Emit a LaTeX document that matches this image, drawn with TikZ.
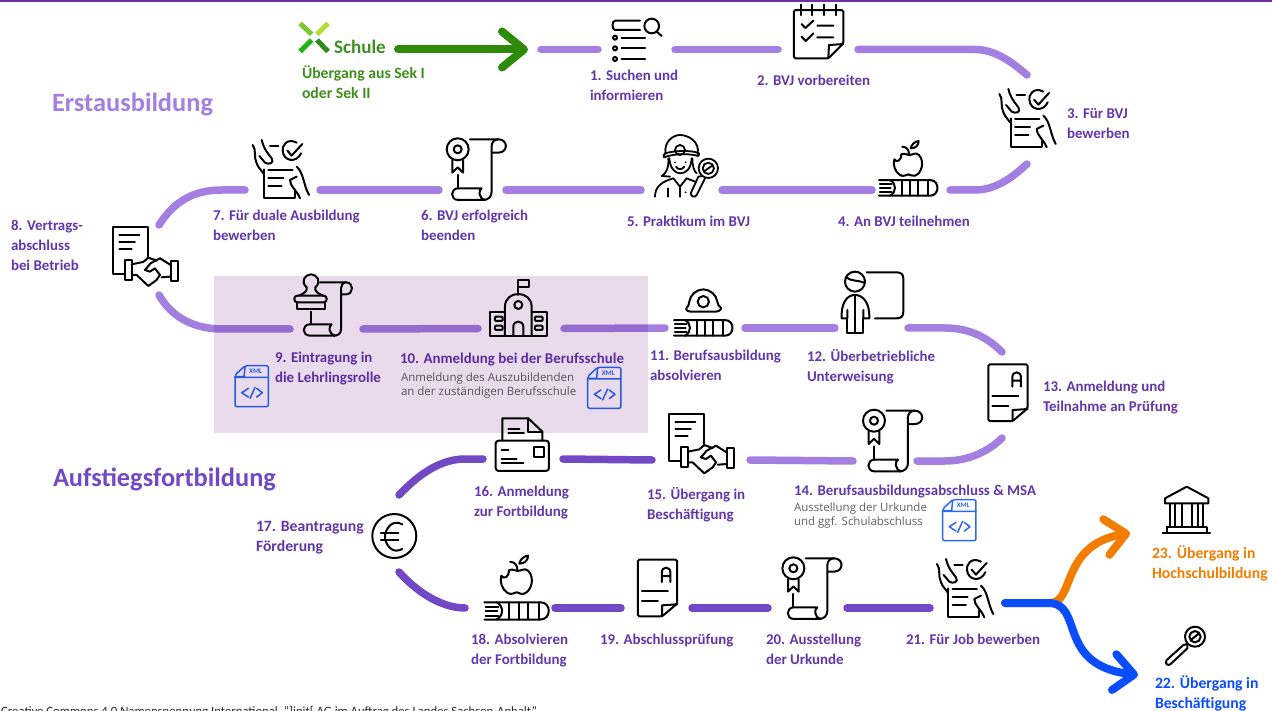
\documentclass[tikz,border=0pt]{standalone}
\usepackage{fontspec}
\setmainfont{Carlito}
\newfontfamily\subfont{Open Sans}
\usetikzlibrary{arrows.meta}
\definecolor{lightp}{HTML}{A27FE0}
\definecolor{darkp}{HTML}{7249C4}
\definecolor{textp}{HTML}{6236AC}
\definecolor{xmlb}{HTML}{2A6AF0}
\definecolor{gr}{HTML}{2E8B0A}
\definecolor{grt}{HTML}{3F8F1E}
\definecolor{orng}{HTML}{F27D00}
\definecolor{blu}{HTML}{0A4CFF}
\definecolor{bandc}{HTML}{E9DAEC}
\definecolor{topl}{HTML}{7030A0}
\newcommand{\ibox}[5]{\node[ibox,minimum width={(#4-#2)*1pt},minimum height={(#5-#3)*1pt}] (#1) at ({(#2+#4)/2},{(#3+#5)/2}) {};}
\tikzset{
 ibox/.style={inner sep=0pt,outer sep=0pt,rectangle},
 ico/.style={x=.3333pt,y=-.3333pt,line width=2pt,line cap=round,line join=round},
 seg/.style={line width=7.5pt,line cap=round,draw=lightp},
 segd/.style={line width=7.5pt,line cap=round,draw=darkp},
 lbl/.style={inner sep=0pt,outer sep=0pt,anchor=north west,align=left,text=textp,font=\fontsize{14.9}{20}\selectfont\bfseries,execute at begin node=\strut},
 lblb/.style={lbl,font=\fontsize{15.7}{20}\selectfont\bfseries},
 subl/.style={inner sep=0pt,outer sep=0pt,anchor=north west,align=left,text=black!62,font=\subfont\fontsize{11.5}{13.5}\selectfont,execute at begin node=\strut},
 head/.style={inner sep=0pt,outer sep=0pt,anchor=west,font=\fontsize{26.4}{30}\selectfont\bfseries},
 pics/chk/.style={code={\begin{scope}[ico,shift={(-540,-118)}]
  \draw (505,120)--(578,120) (505,143)--(550,143) (505,167)--(545,167) (510,48)--(535,48);
  \draw (492,118)--(492,205)--(585,205)--(585,185);
  \draw (590,38) .. controls (560,22) and (545,50) .. (548,62) .. controls (550,95) and (590,100) .. (603,70);
  \draw (562,62)--(575,77)--(607,42);
  \draw (458,45) .. controls (470,60) and (460,80) .. (470,100) .. controls (475,115) and (485,120) .. (490,130);
  \draw (485,30) .. controls (490,50) and (495,60) .. (515,85) .. controls (525,100) and (505,105) .. (495,98) -- (478,78);
  \draw (590,110) .. controls (612,130) and (610,165) .. (627,195);
  \draw (600,205) .. controls (590,180) and (570,170) .. (570,150) -- (590,140);
 \end{scope}}},
 pics/cert/.style={code={\begin{scope}[ico,shift={(-1125,-118)}]
  \draw (1073,58) circle[radius=33] (1073,58) circle[radius=12];
  \draw (1057,90)--(1057,128)--(1073,112)--(1089,128)--(1089,90);
  \draw (1073,135)--(1073,175);
  \draw (1110,28)--(1195,28) .. controls (1225,28) and (1225,68) .. (1195,68) -- (1178,68);
  \draw (1195,28) .. controls (1182,28) and (1175,38) .. (1175,48) -- (1175,185) .. controls (1175,200) and (1165,210) .. (1150,210);
  \draw (1145,175)--(1075,175) .. controls (1050,175) and (1050,210) .. (1075,210) -- (1155,210) .. controls (1135,205) and (1135,180) .. (1145,175);
 \end{scope}}},
 pics/book/.style={code={\begin{scope}[ico,shift={(-685,-563)}]
  \draw (597,540)--(750,540) .. controls (780,540) and (780,587) .. (750,587) -- (597,587);
  \draw (600,553)--(635,553) (600,565)--(632,565) (600,577)--(635,577);
  \draw (630,540) .. controls (650,550) and (650,577) .. (630,587);
  \draw (665,540)--(665,587) (690,540)--(690,587) (715,540)--(715,587) (745,540)--(745,587);
 \end{scope}}},
 pics/apple/.style={code={\begin{scope}[ico,shift={(-685,-485)}]
  \draw (664,463) .. controls (675,458) and (680,465) .. (687,465) .. controls (700,465) and (705,455) .. (717,465) .. controls (735,485) and (725,520) .. (705,527) .. controls (695,530) and (690,523) .. (685,523) .. controls (678,523) and (672,532) .. (660,525) .. controls (645,515) and (638,495) .. (643,478) .. controls (650,490) and (665,480) .. cycle;
  \draw (687,462) .. controls (687,450) and (680,440) .. (667,440);
  \draw (692,445) .. controls (695,432) and (705,425) .. (716,423) .. controls (716,435) and (708,445) .. cycle;
 \end{scope}}},
 pics/hat/.style={code={\begin{scope}[ico,shift={(-190,-125)}]
  \draw (155,155) .. controls (145,155) and (135,150) .. (140,143) .. controls (145,138) and (147,135) .. (148,125) .. controls (150,105) and (170,88) .. (190,88) .. controls (210,88) and (230,105) .. (232,125) .. controls (233,135) and (237,138) .. (243,143) .. controls (245,150) and (235,155) .. (225,155) -- cycle;
  \draw (190,125) circle[radius=17];
 \end{scope}}},
 pics/docA/.style={code={\begin{scope}[ico,shift={(-1105,-398)}]
  \draw[rounded corners=1.5pt] (1045,313)--(1163,313)--(1163,445)--(1118,483)--(1045,483)--cycle;
  \draw (1163,447)--(1118,450)--(1118,483);
  \draw (1117,380)--(1117,352) .. controls (1117,332) and (1143,332) .. (1143,352) -- (1143,380) (1117,362)--(1143,362);
  \draw (1057,407)--(1135,407) (1057,437)--(1105,437);
 \end{scope}}},
 pics/shake/.style={code={\begin{scope}[ico,shift={(-436,-160)}]
  \draw (443,175)--(443,80)--(340,80)--(340,222)--(375,222);
  \draw (358,105)--(418,105) (358,125)--(405,125) (358,147)--(395,147);
  \draw (375,180) rectangle (395,240) (512,183) rectangle (533,243);
  \draw (395,193)--(430,186)--(445,173)--(470,182);
  \draw (395,225)--(410,225)--(445,258)--(470,240)--(480,225)--(465,205)--(450,215)--(435,210)--(452,190)--(480,175)--(512,195);
  \draw (512,230)--(485,232);
 \end{scope}}},
 pics/xmlic/.style={code={\begin{scope}[ico,line width=1.5pt,xmlb,shift={(-125,-350)}]
  \draw[rounded corners=2pt] (105,287)--(175,287)--(175,410)--(75,410)--(75,315)--cycle;
  \draw (75,320)--(102,320)--(105,290) (75,322)--(175,322);
  \draw (115,355)--(95,368)--(115,381) (135,352)--(120,385) (140,355)--(157,368)--(140,381);
  \node[inner sep=0pt,text=xmlb,font=\fontsize{7}{8}\selectfont\bfseries] at (137,305) {XML};
 \end{scope}}},
 pics/srch/.style={code={\begin{scope}[ico,shift={(-1070,-120)}]
  \draw (1080,62)--(1005,62) .. controls (995,62) and (995,90) .. (1005,90) -- (1080,90);
  \draw (1115,78) circle[radius=22] (1130,95)--(1145,108);
  \draw (1005,113) circle[radius=6] (1005,145) circle[radius=6] (1005,177) circle[radius=6];
  \draw (1025,113)--(1095,113) (1025,145)--(1095,145) (1025,177)--(1095,177);
 \end{scope}}},
 pics/noteic/.style={code={\begin{scope}[ico,shift={(-415,-95)}]
  \draw[rounded corners=1.5pt] (342,30)--(490,30)--(490,130)--(445,175)--(342,175)--cycle;
  \draw (490,132)--(447,135)--(445,175);
  \draw (362,14)--(362,45) (397,14)--(397,45) (432,14)--(432,45) (467,14)--(467,45);
  \draw (365,72)--(376,84)--(400,62) (412,77)--(460,77) (365,110)--(377,123)--(400,100) (412,112)--(460,112);
 \end{scope}}},
 pics/worker/.style={code={\begin{scope}[ico,line width=1.8pt]
  \draw (62,72) .. controls (55,35) and (85,15) .. (105,15) .. controls (130,15) and (165,35) .. (158,72);
  \draw (57,82) .. controls (90,70) and (130,70) .. (160,78) .. controls (165,70) and (160,68) .. (158,68) .. controls (130,60) and (90,62) .. (60,70) .. controls (55,72) and (55,80) .. cycle;
  \draw (105,60) circle[radius=15];
  \draw (73,85) .. controls (75,115) and (90,130) .. (105,130) .. controls (125,130) and (138,115) .. (140,85);
  \draw (70,85) .. controls (72,110) and (65,130) .. (50,138) -- (75,140);
  \draw (142,85) .. controls (142,110) and (148,125) .. (155,130);
  \draw (93,110) .. controls (98,120) and (112,120) .. (118,110);
  \fill (90,97) circle[radius=3] (122,97) circle[radius=3] (122,187) circle[radius=3];
  \draw (30,200) .. controls (30,170) and (50,155) .. (85,145) -- (105,170) -- (125,145) -- (150,155);
  \draw (105,170)--(105,200) (70,175)--(70,200);
  \draw (190,115) circle[radius=29] (190,115) circle[radius=17] (180,122)--(200,108);
  \draw (172,138)--(160,140)--(138,188) .. controls (135,200) and (150,205) .. (155,195) -- (180,145);
 \end{scope}}},
 pics/stamp/.style={code={\begin{scope}[ico,shift={(-330,-105)}]
  \draw (290,52) .. controls (270,35) and (285,13) .. (303,13) .. controls (321,13) and (336,35) .. (316,52) .. controls (312,62) and (325,72) .. (340,77);
  \draw (290,52) .. controls (294,62) and (281,72) .. (266,77);
  \draw[rounded corners=3pt] (253,77) rectangle (350,97);
  \draw (260,97)--(260,118)--(345,118)--(345,97);
  \draw (303,125)--(303,160);
  \draw (330,37)--(408,37) .. controls (432,37) and (432,73) .. (408,73) -- (395,73);
  \draw (408,37) .. controls (398,37) and (393,47) .. (393,55) -- (393,178) .. controls (393,190) and (385,197) .. (372,197);
  \draw (365,163)--(300,163) .. controls (275,163) and (275,197) .. (300,197) -- (375,197) .. controls (355,190) and (355,170) .. (365,163);
 \end{scope}}},
 pics/school/.style={code={\begin{scope}[ico,shift={(-925,-115)}]
  \draw (925,75)--(925,30)--(957,30)--(957,52)--(925,52);
  \draw (885,197)--(885,110) .. controls (885,85) and (905,72) .. (925,72) .. controls (945,72) and (965,85) .. (965,110) -- (965,197);
  \draw (925,105) circle[radius=12];
  \draw (910,197)--(910,170) .. controls (910,150) and (940,150) .. (940,170) -- (940,197);
  \draw (885,125)--(840,125)--(840,197)--(1010,197)--(1010,125)--(965,125);
  \draw[rounded corners=1pt] (855,140) rectangle (878,153) (855,167) rectangle (878,180) (975,140) rectangle (998,153) (975,167) rectangle (998,180);
 \end{scope}}},
 pics/teach/.style={code={\begin{scope}[ico,shift={(-700,-130)}]
  \draw (645,65) circle[radius=30] (618,52) .. controls (635,65) and (655,60) .. (672,68);
  \draw (680,37)--(770,37) .. controls (785,37) and (790,45) .. (790,55) -- (790,155) .. controls (790,168) and (785,175) .. (770,175) -- (705,175);
  \draw (605,175) .. controls (603,130) and (620,105) .. (645,105) .. controls (670,105) and (690,130) .. (688,175) -- (670,175) -- (670,150) (605,175) -- (622,175) -- (622,150);
  \draw (622,175)--(622,220)--(645,220)--(645,105) (670,175)--(670,220)--(645,220);
 \end{scope}}},
 pics/post/.style={code={\begin{scope}[ico,shift={(-817,-100)}]
  \draw[rounded corners=3pt] (737,92) rectangle (897,183);
  \draw (853,112) rectangle (883,140);
  \draw (755,120)--(775,120) (755,147)--(800,147) (755,160)--(820,160);
  \draw (757,92)--(757,25)--(835,25)--(877,65)--(877,92);
  \draw (835,25)--(835,65)--(877,65);
  \draw (775,57)--(808,57) (775,70)--(822,70);
 \end{scope}}},
 pics/euro/.style={code={\begin{scope}[ico,shift={(-433,-378)}]
  \draw (433,378) circle[radius=66];
  \draw (457,343) .. controls (425,325) and (405,360) .. (405,380) .. controls (405,400) and (425,435) .. (457,417);
  \draw (393,370)--(445,370) (393,390)--(445,390);
 \end{scope}}},
 pics/inst/.style={code={\begin{scope}[ico,shift={(-590,-120)}]
  \draw (590,50)--(655,85)--(655,100)--(525,100)--(525,85)--cycle;
  \draw (540,103)--(540,168) (555,103)--(555,168) (575,103)--(575,168) (605,103)--(605,168) (625,103)--(625,168) (640,103)--(640,168);
  \draw (530,172)--(650,172) (530,172)--(530,188) (650,172)--(650,188) (518,189)--(660,189);
 \end{scope}}},
 pics/lens/.style={code={\begin{scope}[ico,shift={(-615,-500)}]
  \draw (615,500) circle[radius=30] (615,500) circle[radius=17] (605,508)--(625,492);
  \draw (592,522)--(580,525)--(530,570) .. controls (522,580) and (535,590) .. (542,582) -- (592,535)--(592,522);
 \end{scope}}},
}
\begin{document}
\begin{tikzpicture}[x=1pt,y=-1pt]
\useasboundingbox (0,0) rectangle (1272,711);
\fill[white] (0,0) rectangle (1272,711);
\draw[line width=2pt,draw=topl] (0,1) -- (1272,1);
% layout boxes that the connectors attach to
\ibox{sch}{300}{40}{398}{59}
\coordinate (gt) at (528,49.5);
\coordinate (gs) at (541,49.5);
\ibox{i1}{598}{40}{675}{59}
\ibox{i2}{778}{40}{858}{59}
\ibox{i3}{990}{75}{1027}{164}
\ibox{i4}{872}{180}{950}{200}
\ibox{i5}{641}{180}{722}{200}
\ibox{i6}{439}{180}{506}{200}
\ibox{i7}{245}{180}{320}{200}
\ibox{i8}{110}{225}{159}{295}
\ibox{i9}{290}{319}{363}{339}
\ibox{i10}{478}{318}{564}{339}
\ibox{i11}{665}{318}{745}{338}
\ibox{i12}{835}{318}{908}{338}
\ibox{i13}{985}{352}{1002}{438}
\ibox{i14}{853}{451}{917}{471}
\ibox{i15}{652}{450}{750}{470}
\ibox{i16}{483}{449}{563}{469}
\ibox{i17}{370}{495}{399}{572}
\ibox{i18}{465}{598}{555}{618}
\ibox{i19}{621}{598}{692}{618}
\ibox{i20}{768}{598}{847}{618}
\ibox{i21}{930}{603}{1005}{613}
\ibox{i23}{1130}{493}{1215}{573}
\ibox{i22}{1138}{650}{1210}{700}
% connectors
\draw[line width=8pt,line cap=round,draw=gr,-{Straight Barb[length=22pt,width=36pt,round]}] (sch.east) -- (gt);
\draw[seg] (gs) -- (i1.west);
\draw[seg] (i1.east) -- (i2.west);
\draw[seg] (i2.east) -- (975,49.5) .. controls (995,49.5) and (1012,62) .. (i3.north east);
\draw[seg] (i3.south east) .. controls (1012,178) and (995,190) .. (975,190) -- (i4.east);
\draw[seg] (i4.west) -- (i5.east);
\draw[seg] (i5.west) -- (i6.east);
\draw[seg] (i6.west) -- (i7.east);
\draw[seg] (i7.west) -- (222,190) .. controls (195,190) and (175,200) .. (i8.north east);
\draw[seg] (i8.south east) .. controls (172,318) and (195,329) .. (222,329) -- (i9.west);
\draw[seg] (i9.east) -- (i10.west);
\draw[seg] (i10.east) -- (i11.west);
\draw[seg] (i11.east) -- (i12.west);
\draw[seg] (i12.east) -- (945,328) .. controls (970,328) and (988,338) .. (i13.north east);
\draw[seg] (i13.south east) .. controls (990,450) and (970,461) .. (945,461) -- (i14.east);
\draw[seg] (i14.west) -- (i15.east);
\draw[segd] (i15.west) -- (i16.east);
\draw[segd] (i16.west) -- (465,459) .. controls (440,459) and (418,475) .. (i17.north east);
\draw[segd] (i17.south east) .. controls (415,590) and (440,608) .. (i18.west);
\draw[segd] (i18.east) -- (i19.west);
\draw[segd] (i19.east) -- (i20.west);
\draw[segd] (i20.east) -- (i21.west);
\draw[line width=8pt,line cap=round,draw=orng,-{Straight Barb[length=20pt,width=36pt,round]}] (i21.north east) -- (1050,603) .. controls (1075,603) and (1060,545) .. (i23.west);
\draw[line width=8pt,line cap=round,draw=blu,-{Straight Barb[length=20pt,width=36pt,round]}] (i21.north east) -- (1048,603) .. controls (1085,603) and (1055,665) .. (i22.west);
% logo
\foreach \p/\q/\c in {300/311.7/7DC832,328/317/B5DC37}{\definecolor{tmpc}{HTML}{\c}\draw[line width=5pt,draw=tmpc] (\p,23.5) -- (\q,34.3);}
\foreach \p/\q/\c in {300/311.7/1EB414,328/317/2E8B1E}{\definecolor{tmpc}{HTML}{\c}\draw[line width=5pt,draw=tmpc] (\p,51.5) -- (\q,40);}
\node[inner sep=0pt,anchor=west,text=grt,font=\fontsize{19}{22}\selectfont\bfseries] (schule) at (334,47) {Schule};
% icons
\pic at (636.7,40) {srch};
\pic at (818.3,31.7) {noteic};
\pic at (1026.7,118.3) {chk};
\pic at (908.3,187.7) {book};
\pic at (908.3,161.7) {apple};
\pic at (645,130) {worker};
\pic at (475,169.3) {cert};
\pic at (280,169.3) {chk};
\pic at (145.3,253.3) {shake};
\pic at (320,305) {stamp};
\pic at (518.3,308.3) {school};
\pic at (703.3,327.7) {book};
\pic at (703.3,301.7) {hat};
\pic at (873.3,303.3) {teach};
\pic at (1008.3,392.7) {docA};
\pic at (891.3,440.7) {cert};
\pic at (701.3,440.7) {shake};
\pic at (522.3,443.3) {post};
\pic at (394.3,536) {euro};
\pic[scale=1.1] at (516.7,610.7) {book};
\pic[scale=1.1] at (516.7,578.3) {apple};
\pic at (657.8,588) {docA};
\pic at (810.7,588.3) {cert};
\pic at (964.3,588.3) {chk};
\pic at (1186.7,510) {inst};
\pic at (1195,636.7) {lens};
\pic at (251.7,386.7) {xmlic};
\pic at (604.3,388.3) {xmlic};
\pic at (959.3,520.7) {xmlic};
% headings
\node[head,text=lightp] (erst) at (52,104.5) {Erstausbildung};
\node[head,text=darkp] (aufs) at (53,479.5) {Aufstiegsfortbildung};
% labels
\node[lblb,text=grt] (t0) at (302,65.5) {Übergang aus Sek I\\oder Sek II};
\node[lbl] (t1) at (590,70.5) {1. Suchen und\\informieren};
\node[lbl] (t2) at (757,71.5) {2. BVJ vorbereiten};
\node[lbl] (t3) at (1067,108.5) {3. Für BVJ\\bewerben};
\node[lbl] (t4) at (838,212.5) {4. An BVJ teilnehmen};
\node[lbl] (t5) at (627,212.5) {5. Praktikum im BVJ};
\node[lbl] (t6) at (421,210.5) {6. BVJ erfolgreich\\beenden};
\node[lbl] (t7) at (213,210.5) {7. Für duale Ausbildung\\bewerben};
\node[lbl] (t8) at (11,220.5) {8. Vertrags-\\abschluss\\bei Betrieb};
\node[lbl] (t9) at (275,352.5) {9. Eintragung in\\die Lehrlingsrolle};
\node[lbl] (t10) at (400,349.5) {10. Anmeldung bei der Berufsschule};
\node[subl] (s10) at (401,373) {Anmeldung des Auszubildenden\\an der zuständigen Berufsschule};
\node[lbl] (t11) at (650,350.5) {11. Berufsausbildung\\absolvieren};
\node[lbl] (t12) at (807,349.5) {12. Überbetriebliche\\Unterweisung};
\node[lbl] (t13) at (1043,381.5) {13. Anmeldung und\\Teilnahme an Prüfung};
\node[lbl] (t14) at (794,481.5) {14. Berufsausbildungsabschluss \& MSA};
\node[subl] (s14) at (794,503) {Ausstellung der Urkunde\\und ggf. Schulabschluss};
\node[lbl] (t15) at (647,487.5) {15. Übergang in\\Beschäftigung};
\node[lbl] (t16) at (474,486.5) {16. Anmeldung\\zur Fortbildung};
\node[lblb] (t17) at (256,521.5) {17. Beantragung\\Förderung};
\node[lbl] (t18) at (471,634.5) {18. Absolvieren\\der Fortbildung};
\node[lbl] (t19) at (600,630.5) {19. Abschlussprüfung};
\node[lbl] (t20) at (766,634.5) {20. Ausstellung\\der Urkunde};
\node[lbl] (t21) at (906,630.5) {21. Für Job bewerben};
\node[lblb,text=blu] (t22) at (1155,675.5) {22. Übergang in\\Beschäftigung};
\node[lblb,text=orng] (t23) at (1152,545.5) {23. Übergang in\\Hochschulbildung};
% footer, cut by the lower edge
\begin{scope}
\clip (0,690) rectangle (1272,711);
\node[inner sep=0pt,anchor=base west,text=black!85,font=\fontsize{12.7}{14}\selectfont] (foot) at (1,715) {Creative Commons 4.0 Namensnennung International, "]init[ AG im Auftrag des Landes Sachsen-Anhalt"};
\end{scope}
% band laid over the two steps
\node[inner sep=0pt,outer sep=0pt,minimum width=434pt,minimum height=157pt] (band) at (431,354.5) {};
\fill[bandc,blend mode=multiply] (band.north west) rectangle (band.south east);
\end{tikzpicture}
\end{document}
